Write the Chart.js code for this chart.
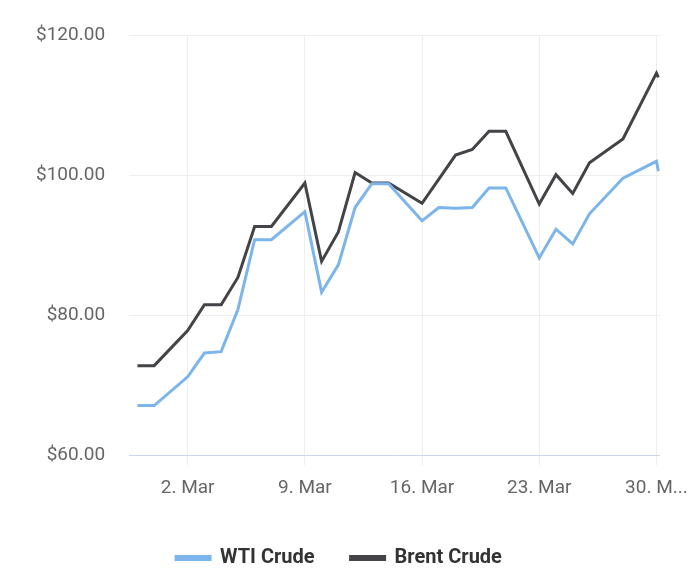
<!DOCTYPE html>
<html>
<head>
<script src="https://cdn.jsdelivr.net/npm/chart.js@4"></script>
<style>
  body { margin: 0; background: #fff; }
  #wrap { width: 700px; height: 584px; }
</style>
</head>
<body>
<div id="wrap"><canvas id="chart"></canvas></div>
<script>
// day numbers: 1 = 1 Mar, 0 = 28 Feb, -1 = 27 Feb
let brent_days = [-1, 0, 2, 3, 4, 5, 6, 7, 9, 10, 11, 12, 13, 14, 16, 18, 19, 20, 21, 23, 24, 25, 26, 28, 30, 30.12];
let brent_values = [72.8, 72.8, 77.8, 81.5, 81.5, 85.4, 92.7, 92.7, 98.9, 87.7, 91.9, 100.4, 98.9, 98.9, 96.0, 102.9, 103.7, 106.3, 106.3, 95.9, 100.1, 97.4, 101.8, 105.2, 114.6, 114.0];

let wti_days = [-1, 0, 2, 3, 4, 5, 6, 7, 9, 10, 11, 12, 13, 14, 16, 17, 18, 19, 20, 21, 23, 24, 25, 26, 28, 30, 30.12];
let wti_values = [67.1, 67.1, 71.2, 74.6, 74.8, 80.8, 90.8, 90.8, 94.8, 83.3, 87.2, 95.4, 98.8, 98.8, 93.5, 95.4, 95.3, 95.4, 98.2, 98.2, 88.2, 92.3, 90.2, 94.5, 99.6, 102.0, 100.6];

let x_ticks = [2, 9, 16, 23, 30];
let y_ticks = [60, 80, 100, 120];

function toPoints(days, values) {
    return days.map((d, i) => ({ x: d, y: values[i] }));
}

new Chart("chart", {
    type: "line",
    data: {
        datasets: [{
            label: "WTI Crude",
            data: toPoints(wti_days, wti_values),
            borderColor: "#7cb5ec",
            backgroundColor: "#7cb5ec",
            borderWidth: 3,
            pointRadius: 0,
            tension: 0
        }, {
            label: "Brent Crude",
            data: toPoints(brent_days, brent_values),
            borderColor: "#434348",
            backgroundColor: "#434348",
            borderWidth: 3,
            pointRadius: 0,
            tension: 0
        }]
    },
    options: {
        responsive: true,
        maintainAspectRatio: false,
        animation: false,
        layout: { padding: { left: 12, right: 34, top: 12, bottom: 6 } },
        plugins: {
            tooltip: { enabled: false },
            legend: {
                position: "bottom",
                labels: {
                    font: { family: "Roboto", size: 20, weight: "bold" },
                    color: "#333",
                    boxWidth: 34,
                    boxHeight: 3,
                    padding: 36
                }
            }
        },
        scales: {
            x: {
                type: "linear",
                min: -1.5,
                max: 30.2,
                afterBuildTicks: axis => { axis.ticks = x_ticks.map(v => ({ value: v })); },
                ticks: {
                    autoSkip: false,
                    maxRotation: 0,
                    font: { family: "Roboto", size: 19 },
                    color: "#666",
                    padding: 12,
                    callback: v => v === 30 ? "30. M..." : v + ". Mar"
                },
                grid: { color: "#eeeeee", tickLength: 10 },
                border: { color: "#ccd6eb" }
            },
            y: {
                min: 60,
                max: 120,
                afterBuildTicks: axis => { axis.ticks = y_ticks.map(v => ({ value: v })); },
                ticks: {
                    font: { family: "Roboto", size: 19 },
                    color: "#666",
                    padding: 24,
                    callback: v => "$" + v.toFixed(2)
                },
                grid: { color: "#eeeeee", drawTicks: false },
                border: { display: false }
            }
        }
    }
});
</script>
</body>
</html>
